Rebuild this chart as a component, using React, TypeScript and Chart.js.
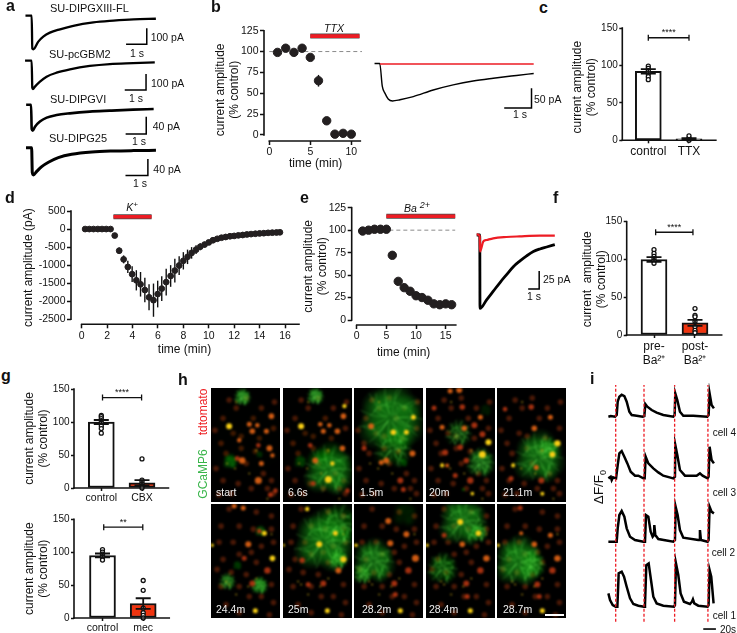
import React, { useEffect, useRef } from 'react';
import { Chart, registerables, ScatterController, BubbleController } from 'chart.js';
Chart.register(...registerables);
// Marks may sit on the plot edges here: keep each plot area exactly where its axes are calibrated.
(ScatterController.prototype as any).getMaxOverflow = () => 0;
(BubbleController.prototype as any).getMaxOverflow = () => 0;

const FONT = '"Liberation Sans", Arial, sans-serif';
Chart.defaults.font.family = FONT;
Chart.defaults.color = '#111';

type Pair = number[];
const RED = '#ed1c24';
const ORANGE_RED = '#f0340f';
const DARK = '#231f20';

// ---- panel a (time in s, current in pA)
const a1Trace: Pair[] = [[-0.33,0],[-0.03,0],[0,-205],[0.05,-210],[0.29,-162],[0.53,-131],[0.85,-106],[1.34,-85],[1.98,-63],[2.95,-42],[3.92,-31],[4.89,-23],[5.97,-19]];
const a1Bar: Pair[] = [[4.53,-179],[5.53,-179],[5.53,-79]];
const a2Trace: Pair[] = [[-0.34,0],[-0.03,0],[0,-170],[0.03,-177],[0.125,-162],[0.36,-131],[0.67,-100],[1.14,-75],[1.77,-54],[2.7,-33],[3.64,-21],[4.73,-15],[5.75,-10]];
const a2Bar: Pair[] = [[4.34,-183],[5.34,-183],[5.34,-83]];
const a3Trace: Pair[] = [[-0.27,0],[-0.03,0],[0,-56],[0.05,-60],[0.16,-50.8],[0.4,-39],[0.73,-30],[1.21,-24],[1.85,-20],[2.82,-16],[3.79,-13.8],[4.92,-11.5],[5.92,-10]];
const a3Bar: Pair[] = [[4.56,-67.7],[5.56,-67.7],[5.56,-27.7]];
const a4Trace: Pair[] = [[-0.28,0],[-0.03,0],[0,-60],[0.05,-65.6],[0.19,-57.6],[0.42,-45.6],[0.72,-35],[1.16,-24],[1.76,-16],[2.66,-10.4],[3.63,-8],[4.52,-7],[5.52,-6.4]];
const a4Bar: Pair[] = [[4.16,-67.2],[5.16,-67.2],[5.16,-27.2]];

// ---- panel b
const bTimes = [1, 2, 3, 4, 5, 6, 7, 8, 9, 10];
const bValues = [99, 104, 99, 104, 93, 65, 17, 1, 2, 1];
const bErrors = [4, 2, 2, 2, 3, 7, 2, 1, 1, 1];
const bBlackTrace: Pair[] = [[-0.2,0.6],[-0.01,0.6],[0.085,-58],[0.18,-75],[0.3,-90],[0.46,-95],[0.73,-92],[1.22,-84],[1.95,-67],[2.68,-54],[3.41,-44],[4.15,-37],[5,-30],[5.63,-25]];
const bRedTrace: Pair[] = [[0,-0.8],[2,-0.8],[4,-0.9],[5.63,-0.8]];
const bBar: Pair[] = [[4.55,-112.7],[5.55,-112.7],[5.55,-62.7]];

// ---- panel c
const cCategories = ['control', 'TTX'];
const cMeans = [92, 2];
const cSems = [3, 1];
const cControlPts = [99, 96, 93, 89, 85, 81];
const cTtxPts = [0, 2, 3, 6];

// ---- panel d
const dTimes = [0.27,0.6,0.93,1.27,1.6,1.93,2.27,2.6,2.95,3.3,3.63,3.97,4.3,4.63,4.97,5.3,5.65,5.98,6.3,6.65,7,7.33,7.67,8,8.33,8.65,9,9.33,9.67,10,10.33,10.67,11,11.33,11.67,12,12.33,12.67,13,13.33,13.67,14,14.33,14.67,15,15.33,15.6];
const dValues = [0,0,0,0,0,0,0,-180,-600,-840,-1050,-1250,-1420,-1530,-1690,-1890,-1970,-1800,-1650,-1470,-1300,-1150,-1010,-880,-770,-660,-570,-490,-430,-370,-310,-270,-240,-220,-200,-190,-175,-165,-150,-140,-130,-120,-115,-105,-100,-95,-90];
const dErrors = [0,0,0,0,0,0,0,30,90,110,170,220,280,340,340,360,460,370,340,370,300,330,260,240,200,160,120,100,80,60,40,30,20,20,15,15,15,10,10,10,10,10,10,10,10,10,10];

// ---- panel e
const eTimes = [1, 2, 3, 4, 5, 6, 7, 8, 9, 10, 11, 12, 13, 14, 15, 16];
const eValues = [99, 100, 101, 101, 101, 72, 43, 36, 32, 27, 25, 22, 18, 17, 18, 17];
const eBlackTrace: Pair[] = [[-0.3,0],[-0.02,0],[0,-102],[0.6,-90],[1.21,-78],[1.82,-66],[2.42,-55],[3.03,-44],[3.64,-36],[4.24,-29],[4.85,-23],[5.45,-19.4],[6.06,-16.7],[6.8,-13.4]];
const eRedTrace: Pair[] = [[-0.3,1],[-0.02,-1.5],[0,-23],[0.3,-9],[0.6,-7],[1.2,-4.6],[2.4,-2.8],[3.6,-1.9],[5.45,-0.9],[6.8,-0.9]];
const eBar: Pair[] = [[4.38,-75],[5.38,-75],[5.38,-50]];

// ---- panel f
const fCategories = [['pre-', 'Ba\u00b2\u207a'], ['post-', 'Ba\u00b2\u207a']];
const fMeans = [100, 16];
const fSems = [3, 4];
const fPrePts = [113, 108, 104, 101, 98, 95];
const fPostPts = [35, 26, 24, 18, 11, 6, 3];

// ---- panel g
const g1Categories = ['control', 'CBX'];
const g1Means = [100, 8];
const g1Sems = [3, 4];
const g1ControlPts = [110, 108, 105, 102, 98, 94, 90, 83];
const g1CbxPts = [44, 12, 9, 6, 3, 0];
const g2Categories = ['control', 'mec'];
const g2Means = [95, 22];
const g2Sems = [3, 8];
const g2ControlPts = [104, 100, 97, 95, 92, 88];
const g2MecPts = [57, 42, 15, 8, 4, 0];

// ---- panel i (time in frames from the first stimulus, height in trace units)
const iStimuli = [0, 85, 177, 277];
const iCell4: Pair[] = [[-22,0],[-15,2],[-2,0],[3,5],[6,45],[11,60],[18,66],[26,62],[33,45],[41,15],[48,5],[63,3],[81,0],[86,2],[89,38],[95,30],[108,20],[123,12],[143,5],[173,0],[177,5],[179,70],[185,50],[193,15],[203,3],[233,3],[275,0],[279,5],[282,70],[288,35],[295,25]];
const iCell3: Pair[] = [[-22,0],[-15,5],[-12,-5],[-8,3],[1,0],[6,40],[11,75],[18,82],[26,65],[35,45],[45,20],[58,8],[68,8],[83,0],[87,0],[90,65],[98,45],[113,30],[128,18],[143,8],[173,0],[178,5],[179,100],[185,70],[193,25],[208,8],[243,8],[253,15],[261,8],[276,0],[279,5],[282,95],[288,55],[295,45]];
const iCell2: Pair[] = [[-22,0],[3,0],[6,40],[11,80],[18,92],[26,75],[33,40],[43,15],[58,5],[83,0],[88,0],[91,80],[98,75],[105,30],[111,15],[115,20],[116,50],[119,20],[128,8],[173,0],[178,5],[180,105],[186,80],[193,35],[203,12],[248,5],[252,5],[253,35],[256,5],[276,0],[279,5],[282,105],[288,90],[295,85]];
const iCell1: Pair[] = [[-22,40],[-17,20],[-9,5],[0,0],[5,0],[9,100],[18,105],[25,90],[33,60],[43,25],[53,8],[68,3],[85,0],[88,5],[92,125],[99,130],[106,80],[113,30],[123,10],[143,3],[175,0],[178,5],[181,130],[188,95],[195,40],[205,15],[223,8],[229,15],[232,22],[236,10],[248,3],[276,0],[279,5],[282,110],[287,90],[294,10]];
const iOffsets = [570, 385, 195, 0];
const iScaleBar: Pair[] = [[263,-67],[301,-67]];

// ---- panel h (positions in one tile of the image, x 0-68, y 0-113)
type Tile = { label: string; yellow: Pair[]; orange: Pair[]; red: Pair[]; clouds: Pair[] };
const hTiles: Tile[] = [
  { label: 'start', yellow: [[18,38,3]], orange: [[41,43,2.8],[60,28,2.8],[38,36,2.5],[46,37,2.3],[55,43,2.5],[28,52,2.2],[58,60,3],[31,72,3.2],[50,75,2.5],[47,92,3.5],[61,67,2.2]], red: [[47,57,2.3],[59,106,2.5],[64,102,2.3],[26,70,2.5]], clouds: [[31,9,9,0.8],[19,73,8,0.8],[48,66,4,0.5],[35,50,36,0.1]] },
  { label: '6.6s', yellow: [[18,38,3],[45,91,3.5],[49,75,2.2],[61,18,2.2]], orange: [[60,28,2.8],[37,36,2.3],[46,37,2.3],[40,43,2.5],[54,43,2.8],[59,60,2.8],[32,72,3]], red: [[27,57,2.3],[64,102,2.3],[30,95,2.5]], clouds: [[45,81,26,1],[32,8,9,0.8],[17,73,7,0.6],[30,50,30,0.08]] },
  { label: '1.5m', yellow: [[39,44,2.8],[59,29,2.5],[52,44,2.5]], orange: [[17,38,3],[58,65,3],[32,72,3],[27,74,2.5]], red: [[46,92,3],[49,101,2.5],[10,60,2.5]], clouds: [[36,30,34,1],[38,60,20,0.45],[49,74,5,0.6]] },
  { label: '20m', yellow: [[62,54,3],[56,66,3.5],[16,77,2],[46,105,1.8]], orange: [[33,2,3],[24,3,2.5],[16,39,2.5],[38,40,2.8],[54,29,2.5],[21,77,2]], red: [[8,20,2.5],[36,19,2.8],[48,37,3],[56,46,3],[19,64,3],[34,59,2.8],[40,72,2.8],[44,92,3.2],[29,87,2.5]], clouds: [[54,74,15,0.7],[32,45,14,0.35],[59,22,7,0.3],[37,101,2,0.8]] },
  { label: '21.1m', yellow: [[60,55,3.2],[55,66,3],[16,77,2],[45,105,2]], orange: [[37,40,2.8],[53,29,2.5],[39,79,2.5]], red: [[34,19,2.8],[8,21,2.3],[44,92,3],[14,90,2.5]], clouds: [[41,69,26,0.9],[50,60,12,0.5]] },
  { label: '24.4m', yellow: [[53,29,2.5],[61,54,2.8],[1,41,1.8],[44,106,2.5]], orange: [[37,40,3],[23,2,2.5],[32,4,2.5]], red: [[56,66,3.2],[41,79,3],[33,54,2.5],[48,27,2.3]], clouds: [[48,81,9,0.9],[49,27,6,0.7],[26,61,5,0.6],[16,77,9,0.4]] },
  { label: '25m', yellow: [[36,40,3],[60,55,3.2],[52,29,2.5],[44,106,2.5],[0,41,1.8],[24,5,2.2]], orange: [[55,66,3]], red: [[40,79,3],[19,56,2.8],[25,80,2.5]], clouds: [[40,37,31,1],[55,20,22,0.5],[55,55,10,0.6]] },
  { label: '28.2m', yellow: [[46,106,2.5],[2,41,1.8]], orange: [[36,39,3],[34,17,3],[52,30,3],[61,54,3.5]], red: [[54,66,3.2],[40,79,3],[41,90,2.5]], clouds: [[19,57,22,0.9],[8,70,10,0.5],[50,10,14,0.25]] },
  { label: '28.4m', yellow: [[34,18,3],[52,29,2.8],[44,106,2.5],[1,41,1.8]], orange: [[36,40,2.8],[60,54,3.2]], red: [[54,66,3.2],[40,79,3],[18,31,2.5],[41,92,2.5]], clouds: [[36,17,25,0.95],[16,64,16,0.6],[52,28,10,0.5]] },
  { label: '28.7m', yellow: [[45,106,2.5],[1,41,1.8]], orange: [[37,40,2.8],[53,31,2.5],[60,54,3.2],[24,29,2]], red: [[55,66,3.2],[40,80,3],[23,4,2.5],[42,92,2.5]], clouds: [[21,57,25,1],[35,60,14,0.5]] },
];
const hDimTop: Pair[] = [[12,30],[22,45],[10,55],[30,48],[42,30],[50,20],[63,14],[25,20],[15,65],[35,75],[52,85],[60,92],[27,95],[12,92],[40,100],[62,105],[8,106],[20,105],[48,50],[62,40],[5,80],[44,63],[30,60],[56,100],[35,10],[18,12],[4,42]];
const hDimBottom: Pair[] = [[18,5],[45,8],[60,12],[10,22],[28,22],[42,25],[60,25],[8,38],[22,38],[50,42],[62,38],[12,55],[28,50],[45,58],[20,68],[35,70],[60,80],[10,82],[28,82],[50,92],[38,92],[62,98],[15,100],[28,108],[58,110],[6,65],[40,48]];
const hSpecksTop: Pair[] = [[25,14],[45,62],[24,80],[16,75],[38,85],[56,110]];
const hSpecksBottom: Pair[] = [[15,77],[18,80],[37,82],[45,74],[25,90],[60,30]];
const hFibreRays: Pair[] = [[1,0.1],[0.8,0.6],[0.3,1],[-0.3,0.9],[-0.7,0.7],[-1,0.2],[-0.9,-0.3],[-0.6,-0.8],[-0.1,-1],[0.4,-0.9],[0.8,-0.5],[0.6,0.3],[-0.4,0.4],[0.2,0.5],[-0.5,-0.3],[0.35,-0.35]];
const hLobes: Pair[] = [[0,0,0.85],[0.45,0.2,0.6],[-0.4,0.35,0.55],[0.1,-0.5,0.6],[-0.35,-0.35,0.5],[0.3,0.55,0.45],[0.55,-0.3,0.4]];
const hRings = [1, 0.88, 0.76, 0.64, 0.52, 0.42, 0.32, 0.22];

// ---------------------------------------------------------------- helpers
const xy = (pairs: Pair[]) => pairs.map(([x, y]) => ({ x, y }));
const zip = (xs: number[], ys: number[]) => xs.map((x, i) => ({ x, y: ys[i] }));
const lim = (c: number[], pa: number, pb: number) => {
  const k = (c[2] - c[0]) / (c[3] - c[1]);
  return [c[0] + (pa - c[1]) * k, c[0] + (pb - c[1]) * k];
};
const line = (data: any[], color: string, width: number, extra: any = {}) => ({
  type: 'scatter', showLine: true, data, borderColor: color, backgroundColor: color, borderWidth: width,
  pointRadius: 0, clip: false, ...extra,
});
const smooth = { cubicInterpolationMode: 'monotone' };
const dots = (data: any[], r: number, fill = DARK, stroke = DARK, bw = 1) => ({
  type: 'scatter', data, pointRadius: r, pointBackgroundColor: fill, pointBorderColor: stroke, pointBorderWidth: bw, clip: false,
});
const drugBar = (x0: number, x1: number, y: number) => [
  line([{ x: x0, y }, { x: x1, y }], '#4a4a4a', 5),
  line([{ x: x0, y }, { x: x1, y }], RED, 3.6),
];
const dashed = (x0: number, x1: number, y: number) =>
  line([{ x: x0, y }, { x: x1, y }], '#8a8a8a', 1, { borderDash: [4, 3] });

const ordered = (ds: any[]) => ds.map((d, i) => ({ ...d, order: ds.length - i }));

type Err = { x: number; y: number; e: number };
function annot(a: any) {
  const drawErrs = (c: any) => {
    const { ctx, scales: { x, y } } = c;
    ctx.save();
    ctx.strokeStyle = '#111';
    ctx.lineWidth = a.errWidth || 1.4;
    (a.errs || []).forEach((p: Err) => {
      if (!p.e) return;
      const px = x.getPixelForValue(p.x);
      const t = y.getPixelForValue(p.y + p.e);
      const b = y.getPixelForValue(p.y - p.e);
      ctx.beginPath(); ctx.moveTo(px, t); ctx.lineTo(px, b);
      if (a.cap) {
        ctx.moveTo(px - a.cap, t); ctx.lineTo(px + a.cap, t);
        ctx.moveTo(px - a.cap, b); ctx.lineTo(px + a.cap, b);
      }
      ctx.stroke();
    });
    ctx.restore();
  };
  return {
    id: 'annot',
    beforeDatasetsDraw(c: any) { if (!a.cap) drawErrs(c); },
    afterDatasetsDraw(c: any) {
      if (a.cap) drawErrs(c);
      const { ctx, chartArea, scales: { x, y } } = c;
      ctx.save();
      ctx.strokeStyle = '#111';
      ctx.lineWidth = 1.6;
      ctx.lineCap = 'square';
      if (a.ySpine) {
        ctx.beginPath();
        ctx.moveTo(chartArea.left, y.getPixelForValue(a.ySpine[0]));
        ctx.lineTo(chartArea.left, y.getPixelForValue(a.ySpine[1]));
        ctx.stroke();
      }
      if (a.xSpine) {
        ctx.beginPath();
        ctx.moveTo(x.getPixelForValue(a.xSpine[0]), chartArea.bottom);
        ctx.lineTo(x.getPixelForValue(a.xSpine[1]), chartArea.bottom);
        ctx.stroke();
      }
      if (a.bracket) {
        const b = a.bracket;
        const x0 = x.getPixelForValue(b.from), x1 = x.getPixelForValue(b.to), py = y.getPixelForValue(b.y);
        ctx.lineCap = 'butt';
        ctx.lineWidth = 1.3;
        ctx.beginPath();
        ctx.moveTo(x0, py); ctx.lineTo(x1, py);
        ctx.moveTo(x0, py - 3); ctx.lineTo(x0, py + 3);
        ctx.moveTo(x1, py - 3); ctx.lineTo(x1, py + 3);
        ctx.stroke();
        ctx.fillStyle = '#111';
        ctx.font = `9px ${FONT}`;
        ctx.textAlign = 'center';
        ctx.textBaseline = 'middle';
        ctx.fillText(b.label, (x0 + x1) / 2 + (b.dx || 0), py - 5);
      }
      ctx.restore();
    },
  };
}

type Spec = { box: number[]; config: any; bg?: string; filter?: string };
const LH = 14.4;

function plotSpec(o: any): Spec {
  const [pl, pt, pr, pb] = o.plot;
  const left = Math.floor(o.titleCx - LH / 2);
  const top = Math.floor(pt - 11);
  const right = Math.ceil(pr + 15);
  const bottom = Math.ceil(o.xTitleCy ? o.xTitleCy + LH / 2 : o.bottom);
  const [xMin, xMax] = lim(o.xCal, pl, pr);
  const [yMin, yMax] = lim(o.yCal, pb, pt);
  const shiftTitle = (s: any, dx = 0, dy = 0) => {
    if (s.__shifted) return;
    s.__shifted = true;
    const orig = s.drawTitle;
    s.drawTitle = function () {
      const ctx = s.ctx;
      ctx.save(); ctx.translate(dx, dy); orig.call(s); ctx.restore();
    };
  };
  const yt = o.yTicks as number[];
  const tickGrid = { display: true, drawOnChartArea: false, drawTicks: true, tickLength: o.tickLength || 4, tickColor: '#111', tickWidth: 1.5, offset: false };
  return {
    box: [left, top, right - left, bottom - top],
    config: {
      type: 'scatter',
      data: { datasets: ordered(o.datasets) },
      plugins: [annot({ errs: o.errs, cap: o.cap, errWidth: o.errWidth, bracket: o.bracket, xSpine: o.xSpine, ySpine: [yt[0], yt[yt.length - 1]] })],
      options: {
        responsive: false, maintainAspectRatio: false, animation: false, events: [],
        layout: { padding: { left: 0, bottom: 0, top: pt - top, right: right - pr } },
        plugins: { legend: { display: false }, tooltip: { enabled: false } },
        scales: {
          x: {
            type: 'linear', min: xMin, max: xMax, offset: false,
            afterBuildTicks: (s: any) => { s.ticks = o.xTicks.map((value: number) => ({ value })); },
            afterFit: (s: any) => { s.height = bottom - pb; shiftTitle(s, o.xTitleDx || 0, 0); },
            border: { display: false }, grid: tickGrid,
            ticks: {
              autoSkip: false, maxRotation: 0, minRotation: 0, padding: o.xTickPad ?? 1, color: '#111',
              font: { size: o.xTickSize || 10.5 },
              callback: (v: number, i: number) => (o.xLabels ? o.xLabels[i] : String(v)),
            },
            title: o.xTitle ? { display: true, text: o.xTitle, padding: 0, color: '#111', font: { size: 12 } } : { display: false },
          },
          y: {
            type: 'linear', min: yMin, max: yMax,
            afterBuildTicks: (s: any) => { s.ticks = yt.map((value: number) => ({ value })); },
            afterFit: (s: any) => { s.width = pl - left; shiftTitle(s, 0, o.yTitleDy || 0); },
            border: { display: false }, grid: tickGrid,
            ticks: { autoSkip: false, padding: 1.5, color: '#111', font: { size: o.yTickSize || 10.5 }, callback: (v: number) => String(v) },
            title: { display: true, text: o.yTitle, padding: 0, color: '#111', font: { size: 12 } },
          },
        },
      },
    },
  };
}

function barSpec(o: any): Spec {
  const fills = ['#ffffff', o.secondFill || '#ffffff'];
  const ptsA = o.ptsA.map((y: number) => ({ x: 0, y }));
  const ptsB = o.ptsB.map((y: number) => ({ x: 1, y }));
  return plotSpec({
    ...o,
    xTicks: [0, 1],
    yTicks: [150, 100, 50, 0],
    cap: 7.5,
    errWidth: 1.8,
    tickLength: 3,
    yTickSize: 10,
    errs: [{ x: 0, y: o.means[0], e: o.sems[0] }, { x: 1, y: o.means[1], e: o.sems[1] }],
    xSpine: o.xSpineEnd,
    datasets: [
      {
        type: 'bar', grouped: false, barThickness: 26, borderWidth: 2, borderColor: '#111', borderSkipped: false,
        backgroundColor: fills, clip: false,
        data: [{ x: 0, y: o.means[0] }, { x: 1, y: o.means[1] }],
      },
      dots([...ptsA, ...ptsB], 2, '#ffffff', '#111', 1.3),
    ],
  });
}

function traceSpec(o: any): Spec {
  const [l, t, r, b] = o.box;
  const [xMin, xMax] = lim(o.xCal, l, r);
  const [yMin, yMax] = lim(o.yCal, b, t);
  return {
    box: [l, t, r - l, b - t],
    config: {
      type: 'scatter',
      data: { datasets: ordered(o.datasets) },
      options: {
        responsive: false, maintainAspectRatio: false, animation: false, events: [],
        layout: { padding: 0 },
        plugins: { legend: { display: false }, tooltip: { enabled: false } },
        scales: {
          x: { type: 'linear', display: false, min: xMin, max: xMax },
          y: { type: 'linear', display: false, min: yMin, max: yMax },
        },
      },
    },
  };
}

function tileSpec(tile: Tile, box: number[], isBottom: boolean): Spec {
  const dim = isBottom ? hDimBottom : hDimTop;
  const specks = isBottom ? hSpecksBottom : hSpecksTop;
  const bubbles = (list: any[], color: string) => ({
    type: 'bubble', data: list.map(([x, y, r]) => ({ x, y, r })), backgroundColor: color, borderWidth: 0,
  });
  const haze: any[] = [];
  const hazeColors: string[] = [];
  tile.clouds.forEach(([cx, cy, r, a]) => {
    hLobes.forEach(([dx, dy, s]) => {
      hRings.forEach((f) => {
        haze.push({ x: cx + dx * r, y: cy + dy * r, r: r * s * f });
        hazeColors.push(`rgba(42,200,40,${0.055 * a})`);
      });
    });
  });
  const fibres: any[] = [];
  const addRay = (cx: number, cy: number, r: number, dx: number, dy: number) => {
    fibres.push({ x: cx + dx * r * 0.12, y: cy + dy * r * 0.12 });
    fibres.push({ x: cx + dx * r * 0.55 + dy * r * 0.1, y: cy + dy * r * 0.55 - dx * r * 0.1 });
    fibres.push({ x: cx + dx * r * 0.95 + dy * r * 0.06, y: cy + dy * r * 0.95 - dx * r * 0.06 });
    fibres.push({ x: NaN, y: NaN });
  };
  tile.clouds.forEach(([cx, cy, r, a]) => {
    if (r < 9 || a < 0.3) return;
    hFibreRays.forEach(([dx, dy]) => addRay(cx, cy, r, dx, dy));
    hLobes.forEach(([lx, ly, s], li) => {
      hFibreRays.forEach(([dx, dy], ri) => {
        if ((ri + li) % 4 === 0) addRay(cx + lx * r, cy + ly * r, r * s * 0.8, dx, dy);
      });
    });
  });
  const datasets = ordered([
    bubbles(dim.map(([x, y]) => [x, y, 2.8]), 'rgba(122,40,10,0.6)'),
    { type: 'bubble', data: haze, backgroundColor: hazeColors, borderWidth: 0 },
    { type: 'scatter', showLine: true, spanGaps: false, data: fibres, borderColor: 'rgba(110,240,90,0.3)', borderWidth: 0.9, pointRadius: 0 },
    bubbles(tile.red, 'rgba(190,55,18,0.85)'),
    bubbles(tile.orange, 'rgba(228,100,20,0.9)'),
    bubbles(specks.map(([x, y]) => [x, y, 0.8]), '#e8bc18'),
    bubbles(tile.yellow, '#f8cf14'),
  ]);
  return {
    box, bg: '#000', filter: 'blur(0.85px)',
    config: {
      type: 'bubble',
      data: { datasets },
      options: {
        responsive: false, maintainAspectRatio: false, animation: false, events: [],
        layout: { padding: 0 },
        plugins: { legend: { display: false }, tooltip: { enabled: false } },
        scales: {
          x: { type: 'linear', display: false, min: 0, max: 68.5 },
          y: { type: 'linear', display: false, min: 0, max: 113.3, reverse: true },
        },
      },
    },
  };
}

const traceBlack = (pairs: Pair[], w: number) => line(xy(pairs), '#000', w, smooth);
const scaleBar = (pairs: Pair[]) => line(xy(pairs), '#000', 1.5);

function buildSpecs(): Spec[] {
  const specs: Spec[] = [];
  // a
  specs.push(traceSpec({ box: [20, 8, 160, 56], xCal: [0, 32.3, 1, 53], yCal: [0, 15.7, -100, 31.7], datasets: [traceBlack(a1Trace, 2.3), scaleBar(a1Bar)] }));
  specs.push(traceSpec({ box: [20, 53, 160, 100], xCal: [0, 32.3, 1, 53.6], yCal: [0, 60.7, -100, 76.7], datasets: [traceBlack(a2Trace, 2.3), scaleBar(a2Bar)] }));
  specs.push(traceSpec({ box: [20, 98, 160, 145], xCal: [0, 31.7, 1, 52.3], yCal: [0, 104.7, -40, 122], datasets: [traceBlack(a3Trace, 2.6), scaleBar(a3Bar)] }));
  specs.push(traceSpec({ box: [20, 141, 160, 180], xCal: [0, 32.3, 1, 54.7], yCal: [0, 147.7, -40, 164.3], datasets: [traceBlack(a4Trace, 3), scaleBar(a4Bar)] }));
  // b
  specs.push(plotSpec({
    plot: [264, 30.7, 359.3, 141], xCal: [0, 269.3, 10, 351.3], yCal: [125, 30.7, 0, 135],
    xTicks: [0, 5, 10], yTicks: [125, 100, 75, 50, 25, 0], xSpine: [0, 11.1],
    xTitle: 'time (min)', xTitleCy: 163.3, xTitleDx: 4, titleCx: 221, yTitleDy: 4,
    yTitle: ['current amplitude', '(% control)'],
    errs: bTimes.map((x, i) => ({ x, y: bValues[i], e: bErrors[i] })),
    datasets: [dashed(0, 11.3, 100), ...drugBar(5, 11, 118.5), dots(zip(bTimes, bValues), 4.2)],
  }));
  specs.push(traceSpec({
    box: [370, 55, 540, 115], xCal: [0, 380, 1, 407.3], yCal: [0, 63.7, -50, 83.3],
    datasets: [line(xy(bBlackTrace), '#000', 1.4, smooth), line(xy(bRedTrace), RED, 1.6), scaleBar(bBar)],
  }));
  // c
  specs.push(barSpec({
    plot: [622.3, 28, 716, 140.3], xCal: [0, 648.3, 1, 689], yCal: [150, 28, 0, 140.3], bottom: 170,
    xLabels: cCategories, xTickSize: 12, titleCx: 577.3, yTitleDy: 3, yTitle: ['current amplitude', '(% control)'],
    means: cMeans, sems: cSems, ptsA: cControlPts, ptsB: cTtxPts, xSpineEnd: [-0.64, 1.66],
    bracket: { from: 0, to: 1, y: 137, label: '****' },
  }));
  // d
  specs.push(plotSpec({
    plot: [71, 211, 298, 324.3], xCal: [0, 81.7, 16, 285], yCal: [500, 211, -2500, 319.3],
    xTicks: [0, 2, 4, 6, 8, 10, 12, 14, 16], yTicks: [500, 0, -500, -1000, -1500, -2000, -2500], xSpine: [0, 17.1],
    xTitle: 'time (min)', xTitleCy: 349, titleCx: 29, yTitle: 'current amplitude (pA)', xTickPad: 2,
    errs: dTimes.map((x, i) => ({ x, y: dValues[i], e: dErrors[i] })),
    datasets: [...drugBar(2.5, 5.5, 340), dots(zip(dTimes, dValues), 2.9)],
  }));
  // e
  specs.push(plotSpec({
    plot: [351.7, 207.7, 455.7, 325], xCal: [0, 356.7, 15, 445.7], yCal: [125, 207.7, 0, 320],
    xTicks: [0, 5, 10, 15], yTicks: [125, 100, 75, 50, 25, 0], xSpine: [0, 16.7],
    xTitle: 'time (min)', xTitleCy: 352.7, titleCx: 309, yTitle: ['current amplitude', '(% control)'],
    datasets: [dashed(5.5, 16.6, 100), ...drugBar(5, 16.6, 115.4), dots(zip(eTimes, eValues), 4.2)],
  }));
  specs.push(traceSpec({
    box: [472, 225, 562, 315], xCal: [0, 480, 1, 491], yCal: [0, 235, -25, 253],
    datasets: [line(xy(eBlackTrace), '#000', 2.8, smooth), line(xy(eRedTrace), RED, 2.2, smooth), scaleBar(eBar)],
  }));
  // f
  specs.push(barSpec({
    plot: [626.7, 221.7, 721.7, 335], xCal: [0, 654, 1, 695], yCal: [150, 221.7, 0, 335], bottom: 372,
    xLabels: fCategories, xTickSize: 12, titleCx: 587.3, yTitleDy: 1, yTitle: ['current  amplitude', '(% control)'],
    means: fMeans, sems: fSems, ptsA: fPrePts, ptsB: fPostPts, xSpineEnd: [-0.67, 1.65], secondFill: ORANGE_RED,
    bracket: { from: 0.04, to: 0.95, y: 136, label: '****' },
  }));
  // g
  specs.push(barSpec({
    plot: [74, 389, 168, 488], xCal: [0, 101.3, 1, 142], yCal: [150, 389, 0, 488], bottom: 508,
    xLabels: g1Categories, titleCx: 30, yTitle: ['current amplitude', '(% control)'],
    means: g1Means, sems: g1Sems, ptsA: g1ControlPts, ptsB: g1CbxPts, xSpineEnd: [-0.67, 1.65], secondFill: ORANGE_RED,
    bracket: { from: 0.03, to: 0.99, y: 137, label: '****' },
  }));
  specs.push(barSpec({
    plot: [74, 519.3, 169, 618], xCal: [0, 102.5, 1, 143.2], yCal: [150, 519.3, 0, 618], bottom: 633,
    xLabels: g2Categories, titleCx: 30, yTitle: ['current amplitude', '(% control)'],
    means: g2Means, sems: g2Sems, ptsA: g2ControlPts, ptsB: g2MecPts, xSpineEnd: [-0.7, 1.64], secondFill: ORANGE_RED,
    bracket: { from: 0.03, to: 0.99, y: 138, label: '**' },
  }));
  // h
  const colX = [211, 283, 354, 426, 497];
  const rowY = [388, 504];
  hTiles.forEach((t, i) => {
    const r = i < 5 ? 0 : 1;
    specs.push(tileSpec(t, [colX[i % 5], rowY[r], 69, 114], r === 1));
  });
  // i
  const cells = [iCell4, iCell3, iCell2, iCell1];
  specs.push(traceSpec({
    box: [603, 383, 719, 632], xCal: [0, 615.7, 85, 644], yCal: [0, 606.7, 300, 506.7],
    datasets: [
      ...cells.map((c, k) => line(c.map(([x, h]) => ({ x, y: h + iOffsets[k] })), '#000', 2.5)),
      ...iStimuli.map((x) => line([{ x, y: -45 }, { x, y: 665 }], RED, 1.3, { borderDash: [3, 2] })),
      line(xy(iScaleBar), '#000', 1.6),
    ],
  }));
  return specs;
}

// ---------------------------------------------------------------- text
const italic = { fontStyle: 'italic' as const };
type L = { x: number; y: number; c: any; size?: number; center?: boolean; rot?: boolean; color?: string; bold?: boolean };
const texts: L[] = [
  { x: 6, y: 6, c: 'a', size: 16, bold: true }, { x: 211, y: 7, c: 'b', size: 16, bold: true }, { x: 539, y: 8, c: 'c', size: 16, bold: true },
  { x: 5, y: 198, c: 'd', size: 16, bold: true }, { x: 300, y: 198, c: 'e', size: 16, bold: true }, { x: 553, y: 198, c: 'f', size: 16, bold: true },
  { x: 1, y: 376, c: 'g', size: 16, bold: true }, { x: 178, y: 380, c: 'h', size: 16, bold: true }, { x: 590, y: 379, c: 'i', size: 16, bold: true },
  { x: 50, y: 8.3, c: 'SU-DIPGXIII-FL', size: 11 }, { x: 49, y: 54, c: 'SU-pcGBM2', size: 11 },
  { x: 50, y: 99.3, c: 'SU-DIPGVI', size: 11 }, { x: 49, y: 137.7, c: 'SU-DIPG25', size: 11 },
  { x: 150.7, y: 37.3, c: '100 pA', size: 10.5 }, { x: 137, y: 52.7, c: '1 s', size: 10.5, center: true },
  { x: 151, y: 82.7, c: '100 pA', size: 10.5 }, { x: 136, y: 98.3, c: '1 s', size: 10.5, center: true },
  { x: 152.7, y: 126, c: '40 pA', size: 10.5 }, { x: 139, y: 141, c: '1 s', size: 10.5, center: true },
  { x: 153.3, y: 169, c: '40 pA', size: 10.5 }, { x: 140, y: 183.3, c: '1 s', size: 10.5, center: true },
  { x: 334, y: 27.7, c: <span style={italic}>TTX</span>, size: 10.5, center: true },
  { x: 534, y: 99.3, c: '50 pA', size: 10.5 }, { x: 520, y: 114.3, c: '1 s', size: 10.5, center: true },
  { x: 132, y: 207, c: <span style={italic}>K<sup style={{ fontSize: 8, lineHeight: 0 }}>+</sup></span>, size: 10.5, center: true },
  { x: 417, y: 208, c: <span style={italic}>Ba <sup style={{ fontSize: 9, lineHeight: 0 }}>2+</sup></span>, size: 10.5, center: true },
  { x: 543, y: 279, c: '25 pA', size: 10.5 }, { x: 534, y: 296, c: '1 s', size: 10.5, center: true },
  { x: 203, y: 412, c: 'tdtomato', size: 12, center: true, rot: true, color: '#ed2024' },
  { x: 203, y: 474, c: 'GCaMP6', size: 12, center: true, rot: true, color: '#39b54a' },
  { x: 598, y: 487, c: <span>{'\u0394F/F'}<sub style={{ fontSize: 9, lineHeight: 0 }}>0</sub></span>, size: 13.5, center: true, rot: true },
  { x: 712.7, y: 431.7, c: 'cell 4', size: 10 }, { x: 712.7, y: 491.7, c: 'cell 3', size: 10 },
  { x: 711.7, y: 551.7, c: 'cell 2', size: 10 }, { x: 712.7, y: 615, c: 'cell 1', size: 10 },
  { x: 720, y: 629, c: '20s', size: 10 },
];
const tileLabelX = [216, 288, 360, 429, 503, 216, 288, 362, 429, 503];
const tileLabelY = [492, 609];

export default function App() {
  const specs = useRef<Spec[]>(buildSpecs()).current;
  const refs = useRef<(HTMLCanvasElement | null)[]>([]);
  useEffect(() => {
    const charts = specs.map((s, i) => new Chart(refs.current[i] as HTMLCanvasElement, s.config));
    return () => charts.forEach((c) => c.destroy());
  }, [specs]);
  return (
    <div style={{ position: 'absolute', left: 0, top: 0, width: 737, height: 633, overflow: 'hidden', background: '#fff', fontFamily: FONT, color: '#111' }}>
      {specs.map((s, i) => (
        <div key={i} style={{ position: 'absolute', left: s.box[0], top: s.box[1], width: s.box[2], height: s.box[3], overflow: 'hidden', background: s.bg || 'transparent' }}>
          <canvas
            ref={(el) => { refs.current[i] = el; }}
            width={s.box[2]}
            height={s.box[3]}
            style={{ display: 'block', filter: s.filter }}
          />
        </div>
      ))}
      {hTiles.map((t, i) => (
        <div key={t.label} style={{ position: 'absolute', left: tileLabelX[i], top: tileLabelY[i < 5 ? 0 : 1], transform: 'translateY(-50%)', color: '#eee', fontSize: 10.5, whiteSpace: 'nowrap' }}>{t.label}</div>
      ))}
      <div style={{ position: 'absolute', left: 545, top: 613.5, width: 19, height: 2, background: '#fff' }} />
      {texts.map((t, i) => (
        <div
          key={i}
          style={{
            position: 'absolute', left: t.x, top: t.y, whiteSpace: 'nowrap', fontSize: t.size, color: t.color,
            fontWeight: t.bold ? 700 : 400,
            transform: `${t.center ? 'translate(-50%,-50%)' : 'translateY(-50%)'}${t.rot ? ' rotate(-90deg)' : ''}`,
          }}
        >
          {t.c}
        </div>
      ))}
    </div>
  );
}
